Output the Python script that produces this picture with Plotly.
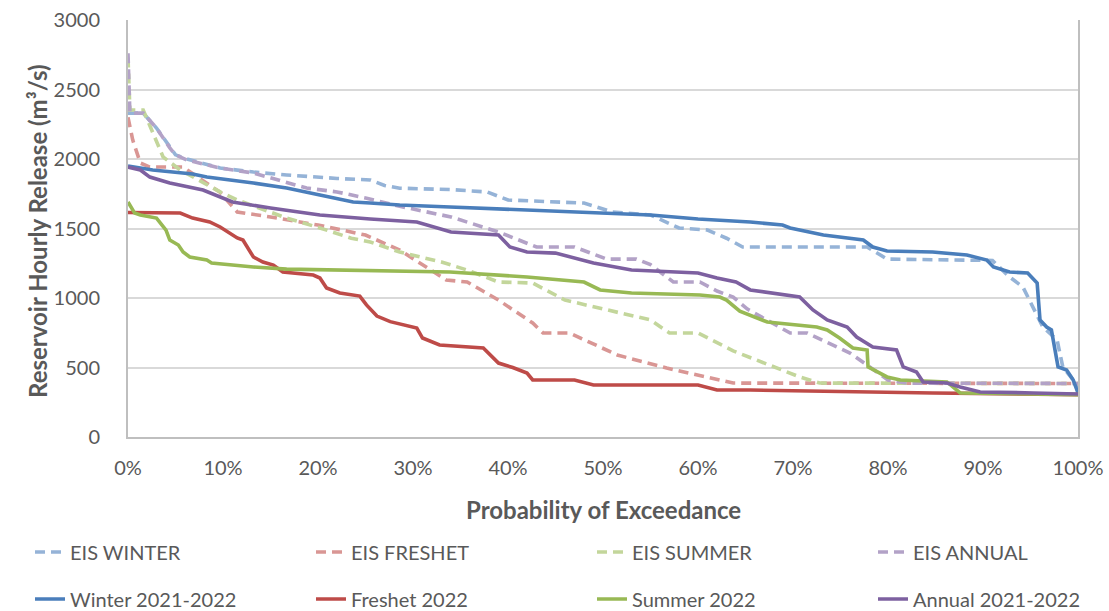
import plotly.graph_objects as go

# ---------------- data (probability of exceedance in %, release in m3/s) ----------------
eis_winter_x = [0, 1.6, 3, 4.4, 5, 6.2, 9.7, 13.2, 16.7, 22, 25.5, 27, 28.6, 34, 37.8, 40, 48, 51, 55, 58,
                61, 63, 64.7, 77.8, 79.9, 91, 92.8, 94.2, 95.3, 96.3, 97.8, 98.4, 99.5, 100]
eis_winter_y = [2330, 2330, 2223, 2080, 2030, 2000, 1935, 1906, 1885, 1860, 1849, 1810, 1790, 1780, 1763, 1705,
                1683, 1619, 1597, 1504, 1489, 1430, 1367, 1367, 1280, 1270, 1151, 1079, 935, 791, 698, 504, 410, 360]

eis_freshet_x = [0, 0.5, 1.3, 2.3, 5.8, 7.6, 9.7, 11.5, 15, 20, 25, 28.6, 32, 33.5, 35.7, 39, 42.6, 43.7,
                 46.5, 51.5, 56.7, 62, 63.7, 100]
eis_freshet_y = [2300, 2136, 1971, 1942, 1942, 1860, 1760, 1619, 1583, 1525, 1453, 1345, 1201, 1130, 1115, 985,
                 820, 748, 748, 590, 496, 410, 388, 385]

eis_summer_x = [0, 0.2, 1.6, 3.7, 5.5, 7.9, 9.7, 11.5, 15, 16.7, 20.2, 23.5, 25.5, 28.6, 33, 35.7, 39, 42.6,
                46, 49.7, 55, 57, 60, 63.7, 67, 70.7, 72.8, 100]
eis_summer_y = [2730, 2352, 2352, 2014, 1921, 1827, 1763, 1705, 1619, 1575, 1504, 1430, 1403, 1331, 1259, 1201,
                1115, 1108, 985, 928, 842, 748, 748, 620, 532, 432, 388, 385]

eis_annual_x = [0, 0.2, 1.6, 3, 4.4, 5, 6.2, 9.7, 13.2, 16.7, 18.8, 22, 25, 28.6, 32, 34, 39, 43, 47, 50.4,
                53.5, 55, 57.4, 60.2, 62, 63.7, 65.2, 67, 69.7, 71.5, 76, 80, 82, 100]
eis_annual_y = [2760, 2330, 2330, 2223, 2080, 2030, 1993, 1935, 1899, 1834, 1791, 1763, 1720, 1660, 1611, 1583,
                1475, 1367, 1367, 1280, 1280, 1240, 1115, 1115, 1050, 1007, 920, 850, 748, 748, 604, 410, 388, 385]

winter_x = [0, 2.6, 6.8, 8.3, 13.2, 16.7, 20.2, 23.7, 25.5, 28.6, 33.9, 46, 55, 60, 65.5, 68.9, 69.7, 73.2,
            77.4, 78.4, 79.9, 84.7, 88.3, 90.4, 91.1, 92.8, 94.7, 95.7, 96, 96.7, 97.2, 97.9, 98.8, 99.5, 100]
winter_y = [1950, 1921, 1892, 1870, 1827, 1791, 1741, 1691, 1683, 1669, 1655, 1619, 1597, 1568, 1547, 1525,
            1504, 1453, 1417, 1367, 1338, 1331, 1309, 1273, 1223, 1187, 1180, 1108, 842, 791, 770, 504, 482, 410, 317]

freshet_x = [0, 5.5, 6.8, 8.6, 9.7, 10.7, 11.5, 12.1, 13.2, 14.2, 15.3, 16.3, 19.5, 20.2, 20.9, 22.3, 24.4,
             25.1, 26.2, 27.6, 30.4, 31, 32.8, 37.4, 39, 40.5, 42, 42.6, 47, 49, 60, 62, 65.5, 84.7, 100]
freshet_y = [1615, 1611, 1575, 1547, 1511, 1468, 1432, 1417, 1295, 1259, 1237, 1187, 1165, 1144, 1072, 1036,
             1014, 950, 870, 830, 784, 712, 662, 640, 532, 500, 460, 410, 410, 374, 374, 338, 338, 317, 305]

summer_x = [0, 0.7, 1.3, 3, 4, 4.4, 5.3, 5.8, 6.5, 8.3, 8.8, 13.2, 16.7, 25.5, 33.9, 42, 48, 49.7, 53, 60.2,
            62.3, 63, 64.4, 67.3, 72.5, 73.6, 74.9, 76.3, 77.8, 77.9, 79.9, 81.3, 86.2, 87.6, 100]
summer_y = [1691, 1611, 1597, 1575, 1489, 1417, 1381, 1331, 1295, 1273, 1252, 1223, 1208, 1194, 1187, 1151,
            1115, 1058, 1036, 1022, 1007, 985, 905, 827, 791, 770, 712, 640, 626, 504, 432, 410, 396, 317, 305]

annual_x = [0, 1.3, 2.3, 4.4, 7.9, 9.7, 11, 15, 20.2, 25.5, 30.4, 34, 39, 40.2, 42, 45, 49, 53, 60, 62, 64,
            65.5, 67.9, 70.7, 72.1, 73.6, 75.7, 76.7, 78.4, 80.9, 81.6, 83, 83.7, 86.2, 87.6, 89.7, 95.3, 100]
annual_y = [1942, 1921, 1870, 1827, 1777, 1727, 1691, 1647, 1597, 1568, 1547, 1475, 1453, 1367, 1331, 1323,
            1252, 1201, 1180, 1144, 1115, 1058, 1036, 1007, 914, 842, 791, 719, 647, 626, 504, 468, 396, 388,
            360, 324, 317, 309]

x_ticks = [0, 10, 20, 30, 40, 50, 60, 70, 80, 90, 100]
x_tick_labels = [f"{v}%" for v in x_ticks]
y_ticks = [0, 500, 1000, 1500, 2000, 2500, 3000]
x_title = "Probability of Exceedance"
y_title = "Reservoir Hourly Release (m³/s)"

# ---------------- figure ----------------
FONT = "Lato, 'Open Sans', sans-serif"
GREY = "#595959"

# (name, x, y, colour, dashed?, legend column)
series = [
    ("EIS WINTER", eis_winter_x, eis_winter_y, "#95B3D7", True, "legend"),
    ("EIS FRESHET", eis_freshet_x, eis_freshet_y, "#D99694", True, "legend2"),
    ("EIS SUMMER", eis_summer_x, eis_summer_y, "#C3D69B", True, "legend3"),
    ("EIS ANNUAL", eis_annual_x, eis_annual_y, "#B3A2C7", True, "legend4"),
    ("Winter 2021-2022", winter_x, winter_y, "#4A7EBB", False, "legend"),
    ("Freshet 2022", freshet_x, freshet_y, "#BE4B48", False, "legend2"),
    ("Summer 2022", summer_x, summer_y, "#98B954", False, "legend3"),
    ("Annual 2021-2022", annual_x, annual_y, "#7D60A0", False, "legend4"),
]

fig = go.Figure()
for name, xs, ys, color, dashed, leg in series:
    fig.add_trace(go.Scatter(
        x=xs, y=ys, name=name, mode="lines",
        line=dict(color=color, width=3.6, dash="10px,6px" if dashed else "solid"),
        legend=leg, legendgroup=name, hoverinfo="skip",
    ))

col_left_px = [30, 311, 592, 873]
legend_base = dict(
    orientation="v", xref="container", yref="container",
    xanchor="left", yanchor="middle", y=1 - 575.5 / 611,
    font=dict(family=FONT, size=20, color=GREY), bgcolor="rgba(0,0,0,0)",
    traceorder="grouped", tracegroupgap=18,
)
legends = {}
for i, key in enumerate(["legend", "legend2", "legend3", "legend4"]):
    legends[key] = dict(legend_base, x=col_left_px[i] / 1109)

fig.update_layout(
    width=1109, height=611,
    margin=dict(l=128, r=31, t=20, b=174, autoexpand=False),
    paper_bgcolor="white", plot_bgcolor="white",
    font=dict(family=FONT, color=GREY),
    showlegend=True,
    hovermode=False,
    **legends,
    xaxis=dict(
        range=[0, 100], tickvals=x_ticks, ticktext=x_tick_labels,
        showgrid=False, zeroline=False, showline=True, linecolor="#BFBFBF", linewidth=2,
        ticks="", ticklabelstandoff=12, tickfont=dict(family=FONT, size=20, color=GREY),
    ),
    yaxis=dict(
        range=[0, 3000], tickvals=y_ticks,
        showgrid=True, gridcolor="#D9D9D9", gridwidth=1.5, zeroline=False,
        showline=True, linecolor="#BFBFBF", linewidth=2, mirror=True,
        ticks="", ticklabelstandoff=22, tickfont=dict(family=FONT, size=20, color=GREY),
    ),
    annotations=[
        dict(text=f"<b>{x_title}</b>", xref="paper", yref="paper", x=0.501, y=0,
             xanchor="center", yanchor="middle", yshift=-72, showarrow=False,
             font=dict(family=FONT, size=24, color=GREY)),
        dict(text=f"<b>{y_title}</b>", xref="paper", yref="paper", x=0, y=0.494,
             xanchor="center", yanchor="middle", xshift=-91, textangle=-90, showarrow=False,
             font=dict(family=FONT, size=24, color=GREY)),
    ],
)

fig.write_html("out.html", config={"displayModeBar": False},
               post_script="document.body.style.margin='0';")
